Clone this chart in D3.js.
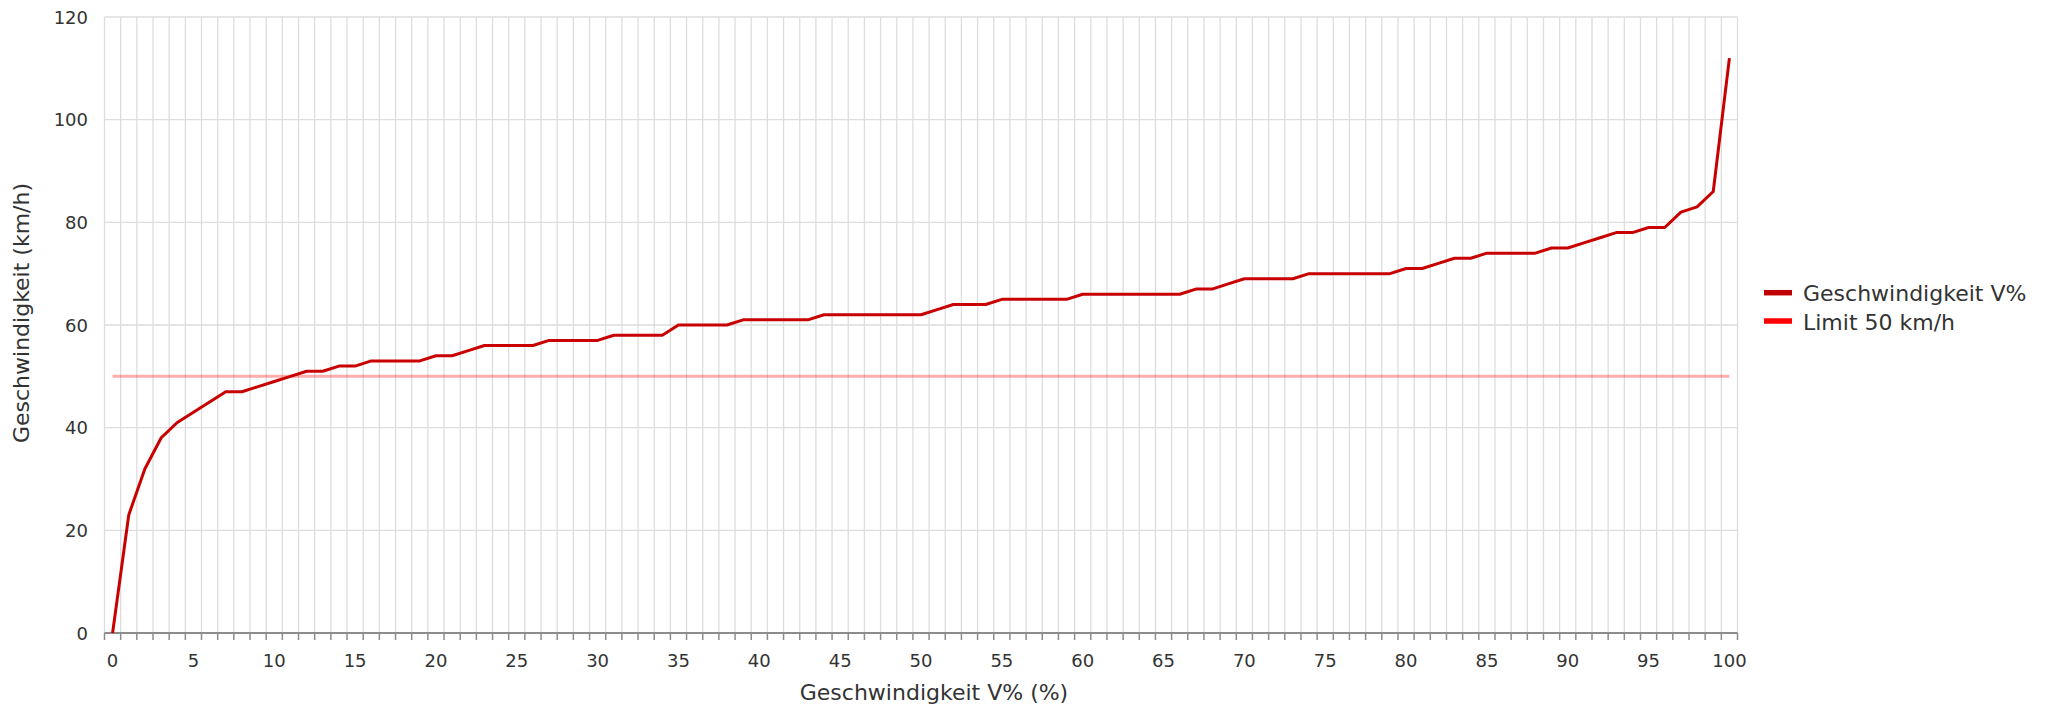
<!DOCTYPE html>
<html><head><meta charset="utf-8">
<script src="https://cdn.jsdelivr.net/npm/d3@7/dist/d3.min.js"></script>
<style>body{margin:0;background:#fff;overflow:hidden} text{font-family:"DejaVu Sans",sans-serif;fill:#333}</style>
</head><body><svg id="c" width="2051" height="709"></svg>
<script>
const categories = [0,1,2,3,4,5,6,7,8,9,10,11,12,13,14,15,16,17,18,19,20,21,22,23,24,25,26,27,28,29,30,31,32,33,34,35,36,37,38,39,40,41,42,43,44,45,46,47,48,49,50,51,52,53,54,55,56,57,58,59,60,61,62,63,64,65,66,67,68,69,70,71,72,73,74,75,76,77,78,79,80,81,82,83,84,85,86,87,88,89,90,91,92,93,94,95,96,97,98,99,100];
const speed = [0,23,32,38,41,43,45,47,47,48,49,50,51,51,52,52,53,53,53,53,54,54,55,56,56,56,56,57,57,57,57,58,58,58,58,60,60,60,60,61,61,61,61,61,62,62,62,62,62,62,62,63,64,64,64,65,65,65,65,65,66,66,66,66,66,66,66,67,67,68,69,69,69,69,70,70,70,70,70,70,71,71,72,73,73,74,74,74,74,75,75,76,77,78,78,79,79,82,83,86,112];
const limitValue = 50;
const limitSeries = categories.map(() => limitValue);
const yTicks = [0,20,40,60,80,100,120];
const xTickLabels = [0,5,10,15,20,25,30,35,40,45,50,55,60,65,70,75,80,85,90,95,100];
const seriesNames = ["Geschwindigkeit V%", "Limit 50 km/h"];
const xTitle = "Geschwindigkeit V% (%)";
const yTitle = "Geschwindigkeit (km/h)";

const svg = d3.select("#c");
const L = 104.5, R = 1737.5, T = 17, B = 633;
const x = d3.scalePoint().domain(categories).range([L, R]).padding(0.5);
const step = x.step();
const y = d3.scaleLinear().domain([0,120]).range([B, T]);

// grid
const bounds = categories.map(c => x(c) - step/2).concat([x(100) + step/2]);
svg.append("g").selectAll("line").data(bounds).join("line")
  .attr("x1", d => d).attr("x2", d => d).attr("y1", T).attr("y2", B)
  .attr("stroke", "#dddddd").attr("stroke-width", 1.3);
svg.append("g").selectAll("line").data(yTicks).join("line")
  .attr("x1", L).attr("x2", R).attr("y1", d => y(d)).attr("y2", d => y(d))
  .attr("stroke", "#dddddd").attr("stroke-width", 1.3);

// x axis
svg.append("line").attr("x1", L).attr("x2", R).attr("y1", B).attr("y2", B)
  .attr("stroke", "#8c8c8c").attr("stroke-width", 2);
svg.append("g").selectAll("line").data(bounds).join("line")
  .attr("x1", d => d).attr("x2", d => d).attr("y1", B).attr("y2", B + 7)
  .attr("stroke", "#8c8c8c").attr("stroke-width", 1.5);
svg.append("g").selectAll("text").data(xTickLabels).join("text")
  .attr("x", d => x(d)).attr("y", 666.5).attr("text-anchor", "middle")
  .attr("font-size", 18).text(d => d);
// y labels
svg.append("g").selectAll("text").data(yTicks).join("text")
  .attr("x", 88).attr("y", d => y(d) + 6.5).attr("text-anchor", "end")
  .attr("font-size", 18).text(d => d);

// titles
svg.append("text").attr("x", 934).attr("y", 700).attr("text-anchor", "middle")
  .attr("font-size", 22).text(xTitle);
svg.append("text").attr("transform", "translate(29,313) rotate(-90)")
  .attr("text-anchor", "middle").attr("font-size", 22).text(yTitle);

// limit line
const line = d3.line().x((d,i) => x(categories[i])).y(d => y(d));
svg.append("path").datum(limitSeries).attr("d", line)
  .attr("fill", "none").attr("stroke", "#ff0000").attr("stroke-opacity", 0.32).attr("stroke-width", 3);
// speed line
svg.append("path").datum(speed).attr("d", line)
  .attr("fill", "none").attr("stroke", "#c80000").attr("stroke-width", 3).attr("stroke-linejoin", "round");

// legend
const legColors = ["#c00000", "#ff0000"];
const lg = svg.append("g");
seriesNames.forEach((n, i) => {
  const ly = 292.7 + i * 28.3;
  lg.append("line").attr("x1", 1764).attr("x2", 1792).attr("y1", ly).attr("y2", ly)
    .attr("stroke", legColors[i]).attr("stroke-width", 5.5);
  lg.append("text").attr("x", 1803).attr("y", ly + 8.5).attr("font-size", 22).text(n);
});
</script></body></html>
